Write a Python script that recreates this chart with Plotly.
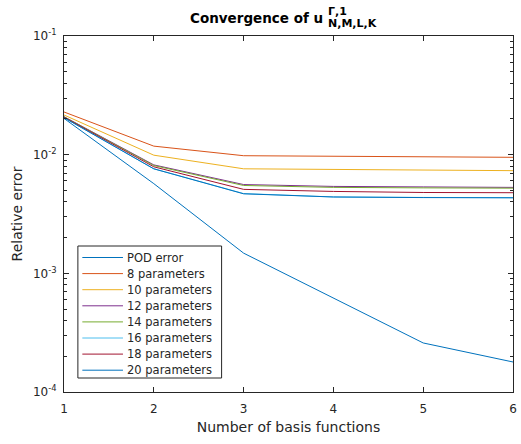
import plotly.graph_objects as go

# Number of basis functions
n_basis = [1, 2, 3, 4, 5, 6]

# Relative errors for each curve
pod_error = [0.0202, 0.0057, 0.00148, 0.00062, 0.000259, 0.000179]
err_8 = [0.0229, 0.0118, 0.0098, 0.0097, 0.0096, 0.0095]
err_10 = [0.0216, 0.0099, 0.0076, 0.0075, 0.0074, 0.00733]
err_12 = [0.0209, 0.0082, 0.0056, 0.0054, 0.00535, 0.0053]
err_14 = [0.0208, 0.0081, 0.0055, 0.0053, 0.00525, 0.00522]
err_16 = [0.0205, 0.0076, 0.0047, 0.0044, 0.00436, 0.00434]
err_18 = [0.0207, 0.0079, 0.0051, 0.0049, 0.0048, 0.00478]
err_20 = [0.0205, 0.0076, 0.00468, 0.0044, 0.00435, 0.00433]

series_names = ["POD error", "8 parameters", "10 parameters", "12 parameters",
                "14 parameters", "16 parameters", "18 parameters", "20 parameters"]
series_values = [pod_error, err_8, err_10, err_12, err_14, err_16, err_18, err_20]
series_colors = ["#0072BD", "#D95319", "#EDB120", "#7E2F8E",
                 "#77AC30", "#4DBEEE", "#A2142F", "#0072BD"]

# y-axis decades and their labels
y_tick_vals = [1e-4, 1e-3, 1e-2, 1e-1]
y_tick_text = ["10<sup>-4</sup>", "10<sup>-3</sup>", "10<sup>-2</sup>", "10<sup>-1</sup>"]

FONT = "DejaVu Sans"
INK = "#262626"

fig = go.Figure()
for name, vals, col in zip(series_names, series_values, series_colors):
    fig.add_trace(go.Scatter(x=n_basis, y=vals, mode="lines", name=name,
                             line=dict(color=col, width=1), showlegend=False))

# plot-area geometry in pixels
W, H = 521, 444
L, R, T, B = 64, 4, 36, 52
pw, ph = W - L - R, H - T - B


def px(x):
    return (x - L) / pw


def py(y):
    return (H - B - y) / ph


minor_vals = [m * 10.0 ** e for e in (-4, -3, -2) for m in range(2, 10)]

fig.update_layout(
    width=W, height=H,
    margin=dict(l=L, r=R, t=T, b=B),
    paper_bgcolor="white", plot_bgcolor="white",
    font=dict(family=FONT, color=INK, size=12),
    showlegend=False,
    xaxis=dict(range=[1, 6], tickvals=n_basis, ticks="inside", ticklen=5,
               tickcolor=INK, showline=True, linecolor=INK, linewidth=1,
               mirror="ticks", showgrid=False, zeroline=False,
               ticklabelstandoff=6,
               tickfont=dict(family=FONT, size=12, color=INK),
               title=dict(text="Number of basis functions",
                          font=dict(family=FONT, size=14, color=INK), standoff=6)),
    yaxis=dict(type="log", range=[-4, -1], tickvals=y_tick_vals, ticktext=y_tick_text,
               ticks="inside", ticklen=5,
               tickcolor=INK, showline=True, linecolor=INK, linewidth=1,
               mirror="ticks", showgrid=False, zeroline=False,
               ticklabelstandoff=4,
               tickfont=dict(family=FONT, size=12, color=INK),
               minor=dict(tickvals=minor_vals, ticks="inside", ticklen=3,
                          tickcolor=INK, showgrid=False),
               title=dict(text="Relative error",
                          font=dict(family=FONT, size=14, color=INK), standoff=7)),
)

# Legend box drawn in paper space
box_l, box_r, box_t, box_b = 78, 223, 246, 378
fig.add_shape(type="rect", xref="paper", yref="paper",
              x0=px(box_l), x1=px(box_r), y0=py(box_b), y1=py(box_t),
              line=dict(color=INK, width=1), fillcolor="white", layer="above")
row0, row_step = 257.5, 16.1
for i, (name, col) in enumerate(zip(series_names, series_colors)):
    yy = py(row0 + i * row_step)
    fig.add_shape(type="line", xref="paper", yref="paper",
                  x0=px(82.5), x1=px(123.5), y0=yy, y1=yy,
                  line=dict(color=col, width=1), layer="above")
    fig.add_annotation(text=name, xref="paper", yref="paper",
                       x=px(126), y=yy, xanchor="left", yanchor="middle",
                       showarrow=False,
                       font=dict(family=FONT, size=11.5, color=INK))

# Title with stacked superscript/subscript on u
fig.add_annotation(text="<b>Convergence of u</b>", xref="paper", yref="paper",
                   x=px(327), y=py(18), xanchor="right", yanchor="middle",
                   showarrow=False, font=dict(family=FONT, size=13.5, color="black"))
fig.add_annotation(text="<b>\u0393,1</b>", xref="paper", yref="paper",
                   x=px(328), y=py(11), xanchor="left", yanchor="middle",
                   showarrow=False, font=dict(family=FONT, size=11, color="black"))
fig.add_annotation(text="<b>N,M,L,K</b>", xref="paper", yref="paper",
                   x=px(328), y=py(23), xanchor="left", yanchor="middle",
                   showarrow=False, font=dict(family=FONT, size=11, color="black"))

fig.write_html("out.html")
